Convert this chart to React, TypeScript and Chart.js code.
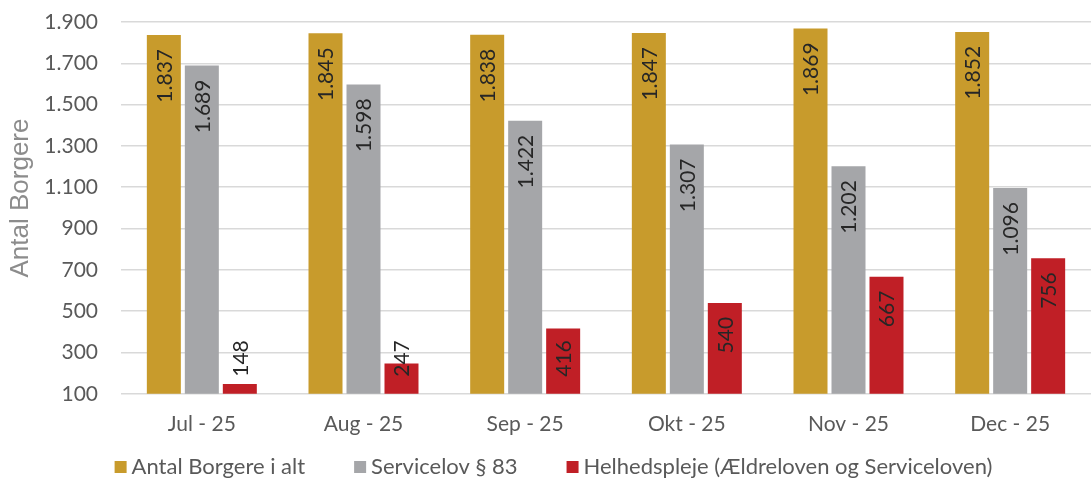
import React, { useEffect, useRef } from "react";
import { Chart, registerables } from "chart.js";

Chart.register(...registerables);

const categories = ["Jul - 25", "Aug - 25", "Sep - 25", "Okt - 25", "Nov - 25", "Dec - 25"];
const seriesNames = ["Antal Borgere i alt", "Servicelov § 83", "Helhedspleje (Ældreloven og Serviceloven)"];
const totalValues = [1837, 1845, 1838, 1847, 1869, 1852];
const servicelovValues = [1689, 1598, 1422, 1307, 1202, 1096];
const helhedsplejeValues = [148, 247, 416, 540, 667, 756];
const seriesColors = ["#C89B2C", "#A5A6A9", "#C01F26"];
const yAxisTitle = "Antal Borgere";

const fmt = (v: number) => {
  const s = Math.round(v).toString();
  return s.replace(/\B(?=(\d{3})+(?!\d))/g, ".");
};

const FONT = "Lato, 'Open Sans', sans-serif";

const labelPlugin = {
  id: "barLabels",
  afterDatasetsDraw(chart: any) {
    const ctx = chart.ctx;
    const base = chart.chartArea.bottom;
    ctx.save();
    ctx.font = `21px ${FONT}`;
    ctx.fillStyle = "#262626";
    ctx.textAlign = "center";
    ctx.textBaseline = "middle";
    chart.data.datasets.forEach((ds: any, di: number) => {
      const meta = chart.getDatasetMeta(di);
      meta.data.forEach((el: any, i: number) => {
        const text = fmt(ds.data[i]);
        const w = ctx.measureText(text).width;
        const top = Math.min(el.y + 14, base - 17 - w);
        ctx.save();
        ctx.translate(el.x + 1, top + w / 2);
        ctx.rotate(-Math.PI / 2);
        ctx.fillText(text, 0, 0);
        ctx.restore();
      });
    });
    ctx.restore();
  },
};

const legendPlugin = {
  id: "customLegend",
  afterDraw(chart: any) {
    const ctx = chart.ctx;
    ctx.save();
    ctx.font = `26px 'Liberation Sans', Arial, sans-serif`;
    ctx.fillStyle = "#8C8C8C";
    ctx.textAlign = "center";
    ctx.textBaseline = "middle";
    ctx.translate(21, 198);
    ctx.rotate(-Math.PI / 2);
    ctx.fillText(yAxisTitle, 0, 0);
    ctx.restore();

    ctx.save();
    ctx.font = `22px ${FONT}`;
    ctx.textBaseline = "middle";
    ctx.textAlign = "left";
    const box = 12;
    const gapText = 5;
    const gapItem = 49;
    const widths = seriesNames.map((n) => ctx.measureText(n).width);
    const total =
      widths.reduce((a, b) => a + b, 0) + seriesNames.length * (box + gapText) + gapItem * (seriesNames.length - 1);
    let x = chart.width / 2 + 8 - total / 2;
    const y = 467;
    seriesNames.forEach((n, i) => {
      ctx.fillStyle = seriesColors[i];
      ctx.fillRect(x, y - box / 2, box, box);
      ctx.fillStyle = "#595959";
      ctx.fillText(n, x + box + gapText, y);
      x += box + gapText + widths[i] + gapItem;
    });
    ctx.restore();
  },
};

export default function App() {
  const ref = useRef<HTMLCanvasElement | null>(null);
  useEffect(() => {
    document.body.style.margin = "0";
    if (!ref.current) return;
    const values = [totalValues, servicelovValues, helhedsplejeValues];
    const chart = new Chart(ref.current, {
      type: "bar",
      data: {
        labels: categories,
        datasets: seriesNames.map((name, i) => ({
          label: name,
          data: values[i],
          backgroundColor: seriesColors[i],
          borderWidth: 0,
          categoryPercentage: 0.705,
          barPercentage: 0.895,
        })),
      },
      options: {
        animation: false,
        responsive: false,
        maintainAspectRatio: false,
        layout: { padding: { top: 22, right: 0, left: 0, bottom: 25 } },
        scales: {
          x: {
            grid: { display: false, drawTicks: false },
            border: { display: false },
            ticks: { color: "#595959", font: { family: FONT, size: 21 }, padding: 18 },
          },
          y: {
            min: 100,
            max: 1900,
            afterFit: (s: any) => {
              s.width = 121;
            },
            grid: {
              color: "#D9D9D9",
              lineWidth: 1.5,
              drawTicks: true,
              tickLength: 23,
              tickColor: "rgba(0,0,0,0)",
            },
            border: { display: false },
            ticks: {
              stepSize: 200,
              color: "#595959",
              font: { family: FONT, size: 21 },
              padding: 0,
              callback: (v: any) => fmt(Number(v)),
            },
          },
        },
        plugins: {
          legend: { display: false },
          tooltip: { enabled: false },
        },
      },
      plugins: [labelPlugin, legendPlugin],
    });
    return () => chart.destroy();
  }, []);
  return <canvas ref={ref} width={1091} height={480} style={{ display: "block" }} />;
}
